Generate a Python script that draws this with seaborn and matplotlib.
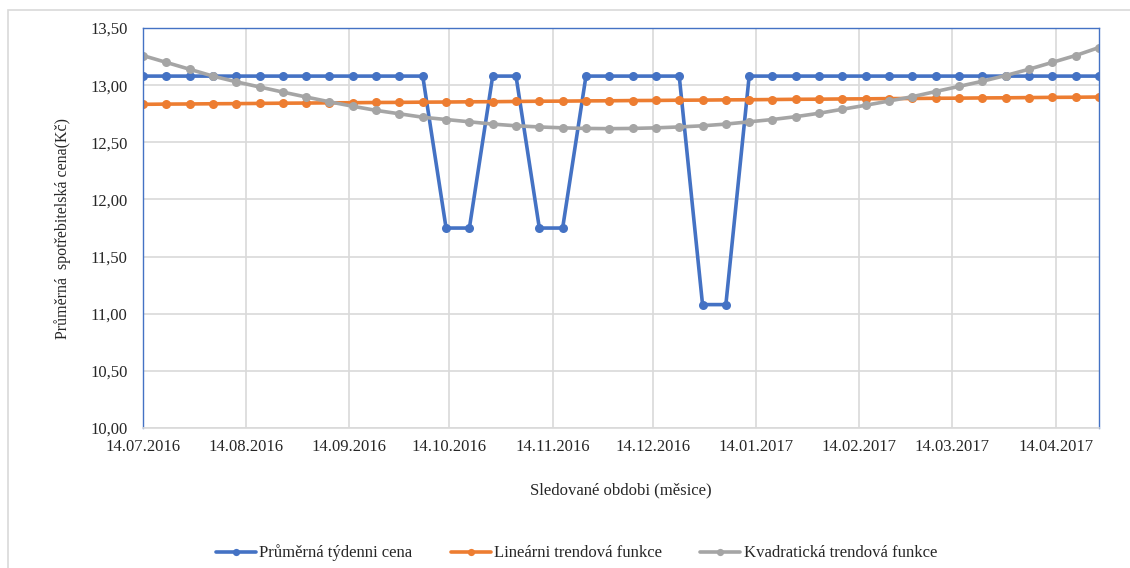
import pandas as pd
import numpy as np
import matplotlib.pyplot as plt
import matplotlib.dates as mdates
import matplotlib.ticker as mticker
import seaborn as sns

# weekly observations starting 14.07.2016 (42 weeks)
dates = pd.date_range('2016-07-14', periods=42, freq='7D')

avg_price = [13.08] * 13 + [11.75, 11.75] + [13.08, 13.08] + [11.75, 11.75] + \
            [13.08] * 5 + [11.08, 11.08] + [13.08] * 16

linear_trend = [12.833, 12.835, 12.836, 12.838, 12.839, 12.841, 12.843, 12.844, 12.846, 12.847,
                12.849, 12.850, 12.852, 12.853, 12.855, 12.856, 12.858, 12.860, 12.861, 12.863,
                12.864, 12.866, 12.867, 12.869, 12.870, 12.872, 12.873, 12.875, 12.877, 12.878,
                12.880, 12.881, 12.883, 12.884, 12.886, 12.887, 12.889, 12.890, 12.892, 12.894,
                12.895, 12.897]

quad_trend = [13.26, 13.20, 13.14, 13.08, 13.03, 12.985, 12.94, 12.897, 12.855, 12.816,
              12.78, 12.75, 12.72, 12.70, 12.68, 12.66, 12.645, 12.635, 12.627, 12.622,
              12.62, 12.622, 12.627, 12.635, 12.645, 12.66, 12.68, 12.70, 12.725, 12.755,
              12.79, 12.825, 12.862, 12.90, 12.945, 12.99, 13.035, 13.085, 13.14, 13.20,
              13.26, 13.33]

series_names = ['Průměrná týdenni cena', 'Lineárni trendová funkce', 'Kvadratická trendová funkce']
colors = ['#4472C4', '#ED7D31', '#A5A5A5']

tick_dates = pd.to_datetime(['2016-07-14', '2016-08-14', '2016-09-14', '2016-10-14', '2016-11-14',
                             '2016-12-14', '2017-01-14', '2017-02-14', '2017-03-14', '2017-04-14'])

df = pd.DataFrame({
    'datum': np.tile(dates, 3),
    'cena': avg_price + linear_trend + quad_trend,
    'serie': np.repeat(series_names, len(dates)),
})

sns.set_style('white')
plt.rcParams['font.family'] = ['Liberation Serif', 'DejaVu Serif']

fig = plt.figure(figsize=(11.3, 5.68), dpi=100)
ax = fig.add_axes([0.1265, 0.2465, 0.846, 0.704])

sns.lineplot(data=df, x='datum', y='cena', hue='serie', hue_order=series_names,
             palette=colors, marker='o', markersize=6.5, markeredgewidth=0,
             linewidth=2.6, ax=ax)

ax.set_xlim(dates[0], dates[-1])
ax.set_ylim(10, 13.5)
ax.set_xticks(tick_dates)
ax.xaxis.set_major_formatter(mdates.DateFormatter('%d.%m.%Y'))
ax.yaxis.set_major_locator(mticker.MultipleLocator(0.5))
ax.yaxis.set_major_formatter(mticker.FuncFormatter(lambda v, p: f'{v:.2f}'.replace('.', ',')))

ax.grid(True, color='#D9D9D9', linewidth=1.2)
ax.set_axisbelow(True)
for side in ['left', 'top', 'right']:
    ax.spines[side].set_color('#4472C4')
    ax.spines[side].set_linewidth(1.0)
ax.spines['bottom'].set_color('#D9D9D9')
ax.spines['bottom'].set_linewidth(1.2)

ax.tick_params(axis='x', which='major', length=5, color='#D9D9D9', width=1.2, labelsize=12, pad=3)
ax.tick_params(axis='y', length=0, labelsize=12, pad=11)

ax.set_xlabel('Sledované obdobi (měsice)', fontsize=12, labelpad=20)
ax.set_ylabel('Průměrná  spotřebitelská cena(Kč)', fontsize=11.5, labelpad=14)

handles, labels = ax.get_legend_handles_labels()
ax.get_legend().remove()
fig.legend(handles, labels, loc='center', bbox_to_anchor=(0.51, 1 - 553 / 568), ncol=3,
           frameon=False, fontsize=12, handlelength=2.4, columnspacing=2.3, handletextpad=0.2,
           markerscale=0.8)

fig.patches.append(plt.Rectangle((8 / 1130, -0.05), 1.2, 1 - 10 / 568 + 0.05,
                                 transform=fig.transFigure, fill=False,
                                 edgecolor='#D9D9D9', linewidth=1.2))

fig.savefig('out.png', dpi=100)
